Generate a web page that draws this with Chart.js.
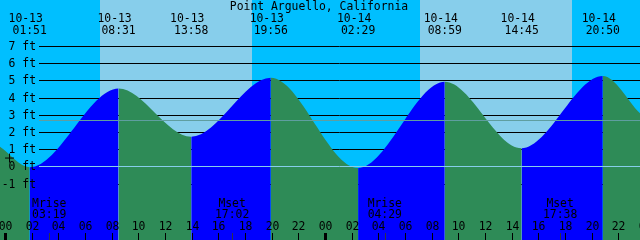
<!DOCTYPE html>
<html>
<head>
<meta charset="utf-8">
<script src="https://cdn.jsdelivr.net/npm/chart.js@4"></script>
<style>
  html, body { margin: 0; padding: 0; background: #00bfff; }
  canvas { display: block; }
</style>
</head>
<body>
<canvas id="tideChart" width="640" height="240"></canvas>
<script>
// chart data
const stationName = 'Point Arguello, California';
const extremeDates = ['10-13', '10-13', '10-13', '10-13', '10-14', '10-14', '10-14', '10-14'];
const extremeTimes = ['01:51', '08:31', '13:58', '19:56', '02:29', '08:59', '14:45', '20:50'];
const extremeHeights = [-0.05, 4.53, 1.72, 5.15, -0.1, 4.92, 1.05, 5.25];
// level where the curve leaves the left and right edges of the window
const edgeHours = [-0.375, 47.625];
const edgeHeights = [1.14, 3.08];

const sunriseHours = [7.125, 31.125];
const sunsetHours = [18.525, 42.5];

const moonLabels = ['Mrise', 'Mset', 'Mrise', 'Mset'];
const moonTimes = ['03:19', '17:02', '04:29', '17:38'];
const moonDays = [0, 0, 1, 1];

const footLabels = ['-1 ft', '0 ft', '1 ft', '2 ft', '3 ft', '4 ft', '5 ft', '6 ft', '7 ft'];
const footValues = [-1, 0, 1, 2, 3, 4, 5, 6, 7];
const hourLabels = ['00', '02', '04', '06', '08', '10', '12', '14', '16', '18', '20', '22',
                    '00', '02', '04', '06', '08', '10', '12', '14', '16', '18', '20', '22', '00'];
const meanLevel = 2.67;
const nowMark = { x: 0.34, y: 0.48 };

const NIGHT = '#00bfff', DAY = '#87ceeb';
const RISE = '#0000ff', FALL = '#2e8b57';
const FONT = '11.4px "DejaVu Sans Mono"';

function toHours(day, t) {
    const p = t.split(':');
    return day * 24 + Number(p[0]) + Number(p[1]) / 60;
}

const tidePoints = [{ x: edgeHours[0], y: edgeHeights[0] }];
extremeTimes.forEach((t, i) => {
    const day = extremeDates[i] === '10-13' ? 0 : 1;
    tidePoints.push({ x: toHours(day, t), y: extremeHeights[i] });
});
tidePoints.push({ x: edgeHours[1], y: edgeHeights[1] });

const tideDecor = {
    id: 'tideDecor',
    beforeDraw(chart) {
        const { ctx, chartArea: a, scales: { x } } = chart;
        ctx.save();
        ctx.fillStyle = NIGHT;
        ctx.fillRect(0, 0, chart.width, chart.height);
        ctx.fillStyle = DAY;
        sunriseHours.forEach((h, i) => {
            const x0 = Math.round(x.getPixelForValue(h));
            const x1 = Math.round(x.getPixelForValue(sunsetHours[i]));
            ctx.fillRect(x0, 0, x1 - x0, chart.height);
        });
        ctx.restore();
    },
    beforeDatasetsDraw(chart) {
        const { ctx, chartArea: a, scales: { y } } = chart;
        ctx.save();
        ctx.strokeStyle = '#000';
        ctx.lineWidth = 1;
        footValues.forEach(v => {
            const py = Math.round(y.getPixelForValue(v)) + 0.5;
            ctx.beginPath();
            ctx.moveTo(39, py);
            ctx.lineTo(a.right, py);
            ctx.stroke();
        });
        ctx.restore();
    },
    afterDatasetsDraw(chart) {
        const { ctx, chartArea: a, scales: { x, y } } = chart;
        ctx.save();
        ctx.lineWidth = 1;
        // mean level and datum lines
        let py = Math.round(y.getPixelForValue(meanLevel)) + 0.5;
        ctx.strokeStyle = '#5f9ea0';
        ctx.beginPath(); ctx.moveTo(39, py); ctx.lineTo(a.right, py); ctx.stroke();
        py = Math.round(y.getPixelForValue(0)) + 0.5;
        ctx.strokeStyle = '#87ceeb';
        ctx.beginPath(); ctx.moveTo(39, py); ctx.lineTo(a.right, py); ctx.stroke();

        ctx.font = FONT;
        ctx.fillStyle = '#000';
        ctx.textBaseline = 'alphabetic';

        // foot labels
        ctx.textAlign = 'right';
        footValues.forEach((v, i) => {
            ctx.fillText(footLabels[i], 36, Math.round(y.getPixelForValue(v)) + 4);
        });

        // title and high/low labels
        ctx.textAlign = 'center';
        ctx.fillText(stationName, 319, 10);
        extremeTimes.forEach((t, i) => {
            const px = x.getPixelForValue(tidePoints[i + 1].x);
            ctx.fillText(extremeDates[i], px - 4, 22);
            ctx.fillText(t, px, 34);
        });

        // hour ticks
        hourLabels.forEach((lab, i) => {
            const h = i * 2;
            const px = Math.round(x.getPixelForValue(h));
            if (h % 24 === 0) {
                ctx.fillRect(px - 1, 233, 3, 7);
            } else {
                ctx.fillRect(px, 233, 1, 7);
            }
            ctx.fillText(lab, px + 0.5, 229.5);
        });

        // moon rise / set
        moonLabels.forEach((lab, i) => {
            const px = x.getPixelForValue(toHours(moonDays[i], moonTimes[i]));
            ctx.fillStyle = '#334';
            ctx.fillRect(Math.round(px), 233, 1, 7);
            ctx.fillStyle = '#000';
            ctx.fillText(lab, px, 206.5);
            ctx.fillText(moonTimes[i], px, 218);
        });
        ctx.restore();
    }
};

new Chart(document.getElementById('tideChart'), {
    type: 'line',
    data: {
        datasets: [{
            data: tidePoints,
            cubicInterpolationMode: 'monotone',
            borderWidth: 0,
            borderColor: 'rgba(0,0,0,0)',
            backgroundColor: FALL,
            pointRadius: 0,
            fill: 'start',
            segment: {
                backgroundColor: c => c.p1.parsed.y > c.p0.parsed.y ? RISE : FALL
            }
        }, {
            data: [nowMark],
            showLine: false,
            fill: false,
            order: -1,
            pointStyle: 'cross',
            pointRadius: 4.5,
            borderColor: '#000',
            borderWidth: 1
        }]
    },
    options: {
        responsive: false,
        animation: false,
        devicePixelRatio: 1,
        layout: { padding: 0, autoPadding: false },
        events: [],
        plugins: { legend: { display: false }, tooltip: { enabled: false } },
        scales: {
            x: { type: 'linear', min: edgeHours[0], max: edgeHours[1], display: false },
            y: { min: -4.285, max: 9.67, display: false }
        }
    },
    plugins: [tideDecor]
});
</script>
</body>
</html>
